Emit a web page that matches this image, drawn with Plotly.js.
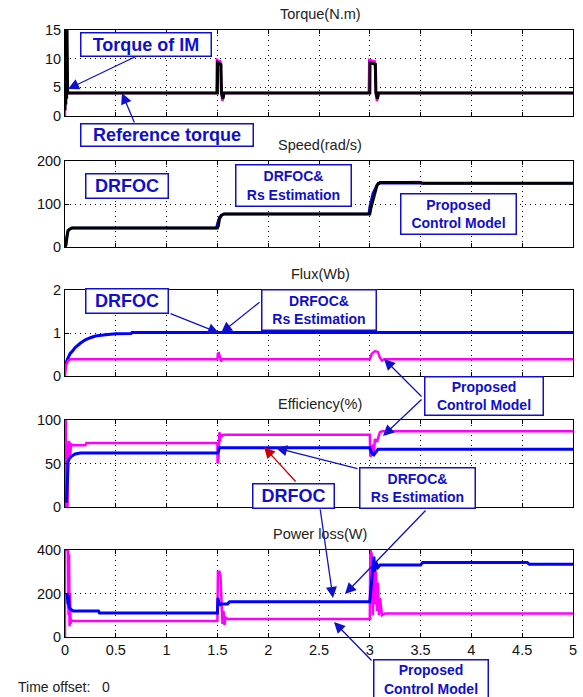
<!DOCTYPE html>
<html>
<head>
<meta charset="utf-8">
<script src="https://cdn.plot.ly/plotly-3.0.1.min.js"></script>
<style>html,body{margin:0;padding:0;background:#fff;}#chart{width:583px;height:697px;}</style>
</head>
<body>
<div id="chart"></div>
<script>
// ---------------- DATA ----------------
const subplotTitles = ["Torque(N.m)", "Speed(rad/s)", "Flux(Wb)", "Efficiency(%)", "Power loss(W)"];
const xTickVals = [0, 0.5, 1, 1.5, 2, 2.5, 3, 3.5, 4, 4.5, 5];
const xTickText = ["0", "0.5", "1", "1.5", "2", "2.5", "3", "3.5", "4", "4.5", "5"];
const torqueTicks = [0, 5, 10, 15];
const speedTicks = [0, 100, 200];
const fluxTicks = [0, 1, 2];
const effTicks = [0, 50, 100];
const powerTicks = [0, 200, 400];

// Torque: reference torque (black) and torque of IM (magenta)
const torqueRefT = [0, 0.004, 0.008, 0.012, 0.016, 0.02, 0.026, 1.5, 1.502, 1.535, 1.54, 1.555, 1.565, 3.0, 3.002, 3.055, 3.06, 3.075, 3.085, 5];
const torqueRefV = [1, 15, 2, 15, 3, 15, 4, 4, 9.3, 9, 4, 3, 4, 4, 9.3, 9, 4, 3, 4, 4];
const torqueImT = [0, 0.002, 0.005, 0.01, 0.02, 0.03, 1.49, 1.495, 1.53, 1.54, 1.55, 1.56, 2.99, 2.995, 3.05, 3.06, 3.07, 3.09, 5];
const torqueImV = [0, 11.5, 4.5, 5, 4.2, 4, 4, 9.8, 9.5, 4, 2.6, 4, 4, 9.8, 9.5, 4, 2.6, 4, 4];

// Speed
const speedRefT = [0, 0.01, 0.02, 0.03, 0.05, 0.07, 1.5, 1.51, 1.52, 1.54, 1.57, 3.0, 3.01, 3.03, 3.05, 3.07, 3.1, 3.5, 3.52, 5];
const speedRefV = [0, 5, 25, 38, 42, 44, 44, 50, 65, 74, 77, 77, 90, 110, 130, 143, 150, 150, 148, 148];
const speedBlueT = [0, 0.01, 0.03, 0.06, 1.49, 1.5, 1.52, 1.56, 2.99, 3.0, 3.03, 3.08, 5];
const speedBlueV = [0, 15, 38, 44, 44, 55, 70, 77, 77, 95, 125, 148, 148];
const speedPcmT = [3.4, 3.5];
const speedPcmV = [151, 151];

// Flux
const fluxDrT = [0, 0.01, 0.03, 0.05, 0.08, 0.1, 0.15, 0.2, 0.25, 0.3, 0.4, 0.5, 0.65, 0.66, 5];
const fluxDrV = [0.2, 0.3, 0.42, 0.52, 0.6, 0.66, 0.76, 0.84, 0.89, 0.93, 0.96, 0.98, 0.99, 1.01, 1.01];
const fluxPcmT = [0, 0.01, 0.03, 0.05, 1.5, 1.505, 1.515, 1.525, 1.535, 1.545, 3.0, 3.02, 3.05, 3.08, 3.1, 3.12, 3.14, 5];
const fluxPcmV = [0, 0.25, 0.35, 0.39, 0.39, 0.52, 0.53, 0.42, 0.34, 0.39, 0.39, 0.52, 0.58, 0.56, 0.42, 0.36, 0.39, 0.39];

// Efficiency
const effPcmT = [0, 0.001, 0.008, 0.01, 0.025, 0.03, 0.035, 0.04, 0.045, 0.05, 0.06, 0.08, 0.2, 0.21, 1.5, 1.502, 1.51, 1.52, 1.525, 1.53, 1.54, 1.56, 3.0, 3.005, 3.02, 3.03, 3.04, 3.05, 3.07, 3.1, 3.12, 5];
const effPcmV = [0, 100, 100, 0, 0, 60, 76, 55, 75, 58, 72, 71, 71, 73.5, 73.5, 50, 55, 86, 75, 84, 81, 83, 83, 58, 60, 72, 62, 78, 75, 86, 87, 87];
const effDrT = [0.015, 0.02, 0.025, 0.03, 0.04, 0.06, 0.1, 0.15, 1.5, 1.51, 1.52, 1.53, 3.0, 3.02, 3.04, 3.06, 3.08, 5];
const effDrV = [5, 30, 50, 52, 55, 58, 61, 62, 62, 64, 68, 68, 68, 62, 60, 63, 66.5, 66.5];

// Power loss
const powPcmT = [0, 0.001, 0.03, 0.035, 0.04, 0.045, 0.05, 0.055, 0.06, 0.07, 1.5, 1.505, 1.52, 1.53, 1.54, 1.55, 1.56, 1.57, 1.58, 1.6, 3.0, 3.005, 3.02, 3.03, 3.04, 3.05, 3.06, 3.07, 3.08, 3.09, 3.1, 3.12, 3.15, 5];
const powPcmV = [0, 400, 400, 100, 380, 50, 200, 60, 80, 74, 74, 300, 300, 280, 150, 60, 120, 55, 90, 83, 83, 400, 380, 100, 350, 150, 300, 120, 250, 100, 180, 100, 108, 108];
const powDrT = [0.02, 0.03, 0.035, 0.04, 0.05, 0.06, 0.08, 0.33, 0.34, 1.5, 1.505, 1.52, 1.53, 1.6, 1.62, 3.0, 3.02, 3.04, 3.05, 3.06, 3.08, 3.1, 3.5, 3.52, 4.55, 4.57, 5];
const powDrV = [200, 150, 190, 140, 130, 125, 120, 120, 110, 110, 180, 145, 152, 152, 162, 162, 250, 370, 300, 345, 320, 331, 331, 342, 342, 334, 334];

// Annotation labels
const lblTorqueIM = "Torque of IM";
const lblRefTorque = "Reference torque";
const lblDRFOC = "DRFOC";
const lblRs = "DRFOC&amp;<br>Rs Estimation";
const lblProposed = "Proposed<br>Control Model";
const timeOffsetText = "Time offset:   0";

// ---------------- LAYOUT HELPERS ----------------
const W = 583, H = 697, L = 65, R = 10;
const PX = p => (p - L) / (W - L - R);
const PY = p => 1 - p / H;
const BLUE = '#0000ff', MAG = '#ff00ff', ABLUE = '#1010cc';
const FONT = '"Liberation Sans", Arial, sans-serif';
const domains = [[30, 116], [161, 247], [290, 376], [420, 507], [550, 637]];
const yRanges = [[0, 15], [0, 200], [0, 2], [0, 100], [0, 400]];
const yTicks = [torqueTicks, speedTicks, fluxTicks, effTicks, powerTicks];

function line(x, y, color, width, idx) {
  const s = idx === 0 ? '' : String(idx + 1);
  return {x: x, y: y, type: 'scatter', mode: 'lines', xaxis: 'x' + s, yaxis: 'y' + s,
          line: {color: color, width: width}, hoverinfo: 'skip', showlegend: false};
}

const data = [
  line(torqueImT, torqueImV, MAG, 2.5, 0),
  line(torqueRefT, torqueRefV, '#000000', 3, 0),
  line(speedBlueT, speedBlueV, BLUE, 2.5, 1),
  line(speedPcmT, speedPcmV, MAG, 2.5, 1),
  line(speedRefT, speedRefV, '#000000', 3, 1),
  line(fluxDrT, fluxDrV, BLUE, 3, 2),
  line(fluxPcmT, fluxPcmV, MAG, 2.5, 2),
  line(effPcmT, effPcmV, MAG, 2.5, 3),
  line(effDrT, effDrV, BLUE, 3, 3),
  line(powPcmT, powPcmV, MAG, 2.5, 4),
  line(powDrT, powDrV, BLUE, 3, 4)
];

const layout = {
  width: W, height: H,
  margin: {l: L, r: R, t: 0, b: 0},
  paper_bgcolor: '#ffffff', plot_bgcolor: '#ffffff',
  showlegend: false,
  font: {family: FONT, size: 14, color: '#000'},
  annotations: [], shapes: []
};

const tickFont = {family: FONT, size: 14.5, color: '#111'};
for (let i = 0; i < 5; i++) {
  const s = i === 0 ? '' : String(i + 1);
  const d = domains[i];
  layout['xaxis' + s] = {
    domain: [0, 1], range: [0, 5], anchor: 'y' + s,
    tickvals: xTickVals, ticktext: xTickText, showticklabels: i === 4,
    ticks: 'inside', ticklen: 4, tickcolor: '#000', tickwidth: 1,
    showline: true, linecolor: '#000', linewidth: 1, mirror: 'allticks',
    showgrid: true, gridcolor: '#000', griddash: '1px,4px', gridwidth: 1,
    zeroline: false, fixedrange: true, tickfont: tickFont
  };
  layout['yaxis' + s] = {
    domain: [PY(d[1]), PY(d[0])], range: yRanges[i], anchor: 'x' + s,
    tickvals: yTicks[i], ticks: 'inside', ticklen: 4, tickcolor: '#000', tickwidth: 1,
    showline: true, linecolor: '#000', linewidth: 1, mirror: 'allticks',
    showgrid: true, gridcolor: '#000', griddash: '1px,4px', gridwidth: 1,
    zeroline: false, fixedrange: true, tickfont: tickFont
  };
}

const titleY = [14, 145, 274, 404, 534];
subplotTitles.forEach((t, i) => {
  layout.annotations.push({text: t, xref: 'paper', yref: 'paper', x: PX(320), y: PY(titleY[i]),
    xanchor: 'center', yanchor: 'middle', showarrow: false,
    font: {family: FONT, size: 14.5, color: '#222'}});
});

layout.annotations.push({text: timeOffsetText, xref: 'paper', yref: 'paper', x: PX(16), y: PY(687),
  xanchor: 'left', yanchor: 'middle', showarrow: false, font: {family: FONT, size: 14, color: '#222'}});

function box(text, l, t, r, b, size) {
  layout.annotations.push({text: '<b>' + text + '</b>', xref: 'paper', yref: 'paper',
    x: PX(l), y: PY(t), xanchor: 'left', yanchor: 'top', showarrow: false,
    width: r - l - 3, height: b - t - 3, align: 'center', valign: 'middle',
    bgcolor: '#ffffff', bordercolor: ABLUE, borderwidth: 1.5, borderpad: 0,
    font: {family: 'Liberation Sans, Arial, sans-serif', size: size, color: ABLUE}});
}
function arrow(tx, ty, hx, hy, color) {
  layout.annotations.push({text: '', xref: 'paper', yref: 'paper', x: PX(hx), y: PY(hy),
    ax: tx - hx, ay: ty - hy, showarrow: true, arrowhead: 2, arrowsize: 1.7, arrowwidth: 1.3,
    arrowcolor: color || ABLUE, standoff: 0});
}

// arrows first
arrow(143, 53, 68, 89);
arrow(135, 124, 122, 93);
arrow(169, 313, 219, 333);
arrow(261, 301, 221, 333);
arrow(423, 398, 384, 359);
arrow(423, 398, 383, 436);
arrow(297, 483, 264, 447, '#cc0000');
arrow(359, 469, 276, 448);
arrow(320, 508, 333, 598);
arrow(427, 509, 345, 594);
arrow(373, 662, 334, 622);

// boxes
box(lblTorqueIM, 80, 32, 212, 57, 18);
box(lblRefTorque, 80, 123, 254, 147, 18);
box(lblDRFOC, 85, 173, 169, 199, 18);
box(lblRs, 235, 164, 352, 207, 14);
box(lblProposed, 400, 193, 517, 235, 14);
box(lblDRFOC, 85, 288, 169, 314, 18);
box(lblRs, 261, 289, 377, 331, 14);
box(lblProposed, 424, 376, 544, 416, 14);
box(lblDRFOC, 252, 483, 335, 509, 18);
box(lblRs, 359, 467, 476, 509, 14);
box(lblProposed, 373, 659, 489, 700, 14);

Plotly.newPlot('chart', data, layout, {staticPlot: true, displayModeBar: false});
</script>
</body>
</html>
